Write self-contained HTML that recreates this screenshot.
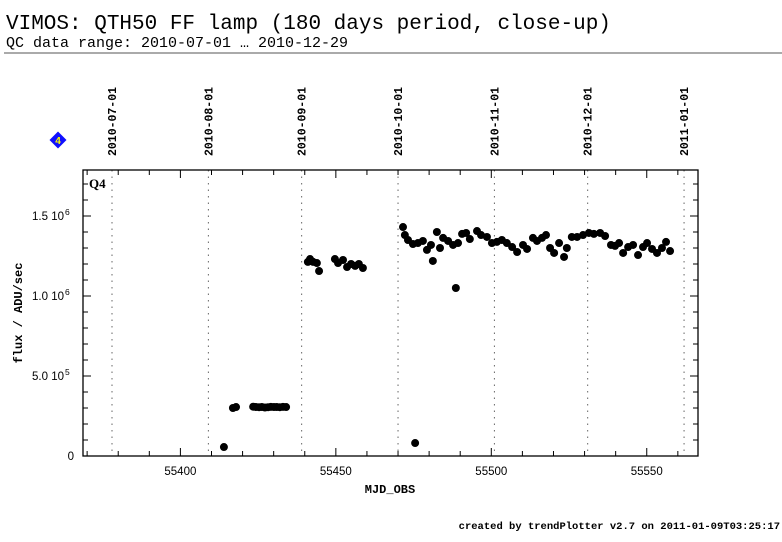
<!DOCTYPE html>
<html><head><meta charset="utf-8"><style>
body{margin:0;background:#fff;width:782px;height:542px;overflow:hidden}
svg{display:block}
</style></head><body>
<svg id="chart" width="782" height="542" xmlns="http://www.w3.org/2000/svg" font-family="Liberation Sans, sans-serif">
<text x="6" y="29" font-family="Liberation Mono, monospace" font-size="21">VIMOS: QTH50 FF lamp (180 days period, close-up)</text>
<text x="6" y="47" font-family="Liberation Mono, monospace" font-size="15">QC data range: 2010-07-01 … 2010-12-29</text>
<line x1="4" y1="53" x2="782" y2="53" stroke="#555" stroke-width="1"/>
<g>
<rect x="52" y="134" width="12" height="12" fill="#1010ff" transform="rotate(45 58 140)"/>
<text x="58" y="144" font-size="10" font-weight="bold" fill="#ff0" text-anchor="middle">4</text>
</g>
<g id="plot"></g>
<text x="89" y="188" font-family="Liberation Serif, serif" font-weight="bold" font-size="13">Q4</text>
<text x="390" y="493" font-family="Liberation Mono, monospace" font-weight="bold" font-size="12" text-anchor="middle">MJD_OBS</text>
<text transform="translate(22,313) rotate(-90)" font-family="Liberation Mono, monospace" font-weight="bold" font-size="12" text-anchor="middle">flux / ADU/sec</text>
<text x="780" y="529" font-family="Liberation Mono, monospace" font-weight="bold" font-size="10.5" text-anchor="end">created by trendPlotter v2.7 on 2011-01-09T03:25:17</text>
</svg>
<script>
const mjd=[55414.0,55416.9,55417.9,55423.4,55424.3,55425.3,55426.2,55427.2,55428.2,55429.1,55430.1,55431.0,55432.0,55433.0,55434.0,
55441.0,55441.7,55442.7,55443.9,55444.6,55449.7,55450.7,55452.3,55453.6,55454.9,55456.2,55457.4,55458.7,
55471.6,55472.2,55473.2,55474.8,55475.5,55476.4,55478.0,55479.3,55480.6,55481.2,55482.5,55483.5,55484.5,55486.1,55487.7,55488.6,55489.3,55490.6,55491.9,55493.1,55495.4,55496.7,55498.6,55500.2,55501.8,55503.4,55505.0,55506.7,55508.3,55510.2,55511.5,55513.4,55514.7,55516.3,55517.6,55518.9,55520.2,55521.8,55523.4,55524.3,55525.9,55527.6,55529.5,55531.4,55533.0,55535.0,55536.6,55538.5,55539.8,55541.1,55542.4,55544.0,55545.6,55547.2,55548.8,55550.1,55551.7,55553.3,55554.9,55556.2,55557.5];
const fluxE6=[0.056,0.300,0.306,0.308,0.306,0.305,0.306,0.303,0.305,0.307,0.306,0.306,0.305,0.307,0.306,
1.213,1.231,1.213,1.206,1.156,1.231,1.206,1.225,1.181,1.200,1.188,1.200,1.175,
1.431,1.381,1.350,1.325,0.081,1.331,1.344,1.288,1.319,1.219,1.400,1.300,1.363,1.344,1.319,1.050,1.331,1.388,1.394,1.356,1.406,1.381,1.369,1.331,1.338,1.350,1.331,1.306,1.275,1.319,1.294,1.363,1.344,1.363,1.381,1.300,1.269,1.331,1.244,1.300,1.369,1.369,1.381,1.394,1.388,1.394,1.375,1.319,1.313,1.331,1.269,1.306,1.319,1.256,1.306,1.331,1.294,1.269,1.300,1.338,1.281];
const xTicks=[55400,55450,55500,55550];
const yTickVals=[0,0.5,1.0,1.5];
const yTickLabels=[["0",""],["5.0 10","5"],["1.0 10","6"],["1.5 10","6"]];
const dateMjd=[55378,55409,55439,55470,55501,55531,55562];
const dateLabels=["2010-07-01","2010-08-01","2010-09-01","2010-10-01","2010-11-01","2010-12-01","2011-01-01"];

const L=83,R=698,T=170,B=456;
const xs=m=>112+(m-55378)*3.109;
const ys=v=>B-v*160;
const NS="http://www.w3.org/2000/svg";
const g=document.getElementById('plot');
function mk(t,a,p){const e=document.createElementNS(NS,t);for(const k in a)e.setAttribute(k,a[k]);(p||g).appendChild(e);return e;}

dateMjd.forEach((m,i)=>{
  const x=xs(m);
  const ln=mk('line',{x1:x,y1:T,x2:x,y2:B,stroke:'#666','stroke-width':1,'stroke-dasharray':'1.5,5'});
  
  
  const t=mk('text',{transform:`translate(${x+4},156) rotate(-90)`,'font-size':'11.5','font-weight':'bold','font-family':'Liberation Mono, monospace'});
  t.textContent=dateLabels[i];
  
  
});
const fr=mk('rect',{x:L,y:T,width:R-L,height:B-T,fill:'none',stroke:'#000','stroke-width':1.3});


for(let m=55370;m<=55565;m+=10){
  const x=xs(m);if(x<L||x>R)continue;
  const len=(m%50===0)?8:5;
  mk('line',{x1:x,y1:B,x2:x,y2:B-len,stroke:'#000'});
  mk('line',{x1:x,y1:T,x2:x,y2:T+len,stroke:'#000'});
}
xTicks.forEach(v=>{
  const t=mk('text',{x:xs(v),y:475,'font-size':'11.5','text-anchor':'middle'});
  t.textContent=v;
  
  
});
for(let v=0;v<=1.75;v+=0.1){
  const y=ys(v);if(y<T)continue;
  const major=Math.abs(v*2-Math.round(v*2))<1e-6;
  const len=major?8:5;
  mk('line',{x1:L,y1:y,x2:L+len,y2:y,stroke:'#000'});
  mk('line',{x1:R,y1:y,x2:R-len,y2:y,stroke:'#000'});
}
yTickVals.forEach((v,i)=>{
  const y=ys(v);
  const t=mk('text',{x:v===0?74:64,y:y+4,'font-size':'11.5','text-anchor':'end'});
  t.textContent=yTickLabels[i][0];
  
  
  if(yTickLabels[i][1]){
    const s=mk('text',{x:65,y:y-1,'font-size':'8.5'});
    s.textContent=yTickLabels[i][1];
    
    
  }
});
mjd.forEach((m,i)=>{
  const c=mk('circle',{cx:xs(m),cy:ys(fluxE6[i]),r:4,fill:'#000'});
  
  
});
</script>
</body></html>
